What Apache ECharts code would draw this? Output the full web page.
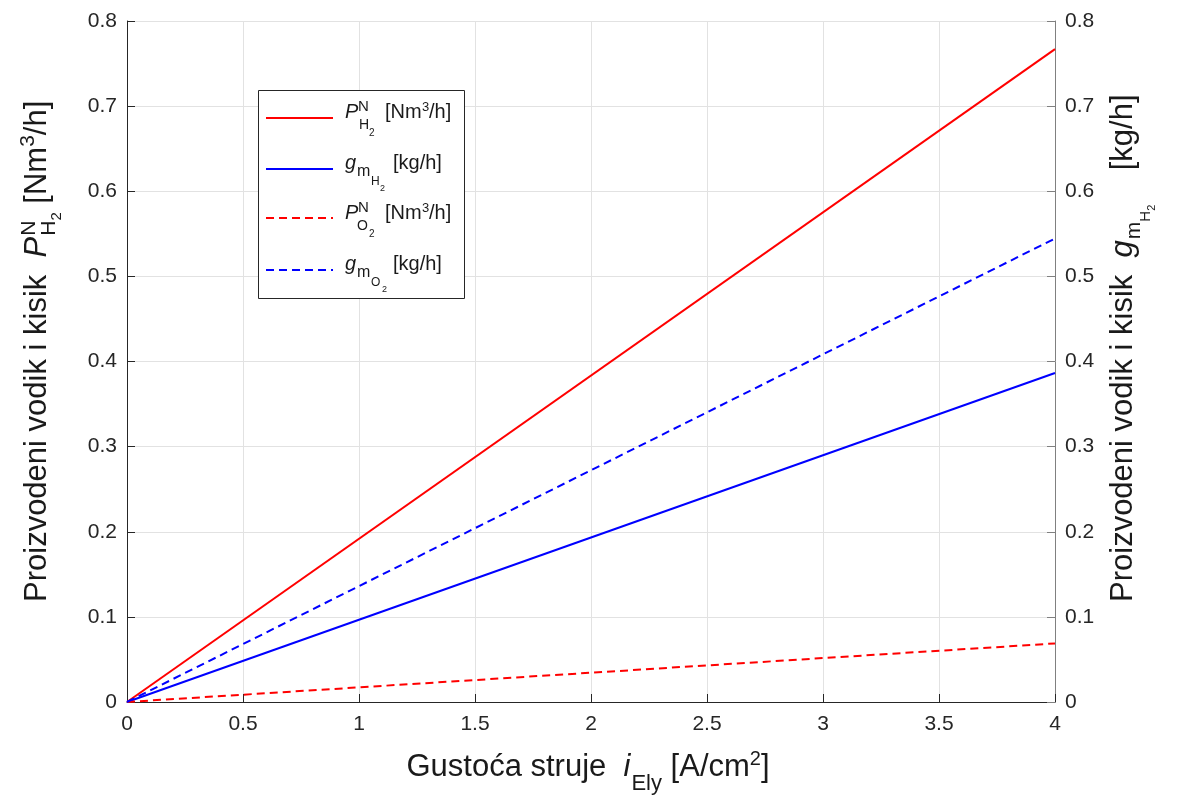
<!DOCTYPE html>
<html>
<head>
<meta charset="utf-8">
<script src="https://cdn.jsdelivr.net/npm/echarts@6/dist/echarts.min.js"></script>
<style>
html,body{margin:0;padding:0;background:#fff;}
#chart{width:1184px;height:803px;}
</style>
</head>
<body>
<div id="chart"></div>
<script>
// ---- data ----
const xValues = [0, 4];                 // current density i_Ely [A/cm^2]
const pH2Values = [0, 0.767];          // P^N_H2 [Nm^3/h]  (red solid)
const gmH2Values = [0, 0.3865];        // g_mH2 [kg/h]     (blue solid)
const pO2Values = [0, 0.0688];         // P^N_O2 [Nm^3/h]  (red dashed)
const gmO2Values = [0, 0.5445];        // g_mO2 [kg/h]     (blue dashed)
const xTicks = {min: 0, max: 4, interval: 0.5};
const yTicks = {min: 0, max: 0.8, interval: 0.1};

const FONT = '"Liberation Sans", Arial, Helvetica, sans-serif';
const TXT = '#1a1a1a';

function pairs(xs, ys) { return xs.map((x, i) => [x, ys[i]]); }

const measureCtx = document.createElement('canvas').getContext('2d');
function fontStr(s, it) { return (it ? 'italic ' : '') + s + 'px ' + FONT; }
function textWidth(t, s, it) { measureCtx.font = fontStr(s, it); return measureCtx.measureText(t).width; }

// text piece with baseline at yb
function piece(x, yb, t, s, it) {
  return {
    type: 'text', x: x, y: yb - 0.35 * s, silent: true,
    style: {
      text: t, fill: TXT, font: fontStr(s, it),
      textAlign: 'left', textVerticalAlign: 'middle', verticalAlign: 'middle'
    }
  };
}
// sequential layout of rich pieces (baseline 0)
function seq(items, x0) {
  const out = [];
  let x = x0, holdX = null, holdEnd = 0;
  items.forEach(p => {
    if (p.gap) { x += p.gap; return; }
    if (p.stackNext) {
      out.push(piece(x, p.dy || 0, p.t, p.s, p.it));
      holdX = x; holdEnd = x + textWidth(p.t, p.s, p.it);
      return;
    }
    out.push(piece(x, p.dy || 0, p.t, p.s, p.it));
    x += textWidth(p.t, p.s, p.it) + (p.after || 0);
    if (holdX !== null && p.endStack) { x = Math.max(x, holdEnd); holdX = null; }
  });
  return {els: out, end: x};
}

const legendRows = [
  {y: 118, color: '#ff0000', dash: 'solid'},
  {y: 169, color: '#0000ff', dash: 'solid'},
  {y: 218, color: '#ff0000', dash: [8, 5]},
  {y: 270, color: '#0000ff', dash: [8, 5]}
];

const graphics = [];
// legend box
graphics.push({type: 'rect', shape: {x: 258.5, y: 90.5, width: 206, height: 208},
  style: {fill: '#fff', stroke: '#262626', lineWidth: 1}, z: 100});
legendRows.forEach(r => {
  graphics.push({type: 'line', shape: {x1: 266, y1: r.y, x2: 333, y2: r.y},
    style: {stroke: r.color, lineWidth: 2, lineDash: r.dash === 'solid' ? null : r.dash}, z: 101});
});
function legendText(list) { list.forEach(p => { p.z = 102; graphics.push(p); }); }
let b = 119;
legendText([
  piece(345, b, 'P', 20, true),
  piece(358, b - 7, 'N', 15, false),
  piece(359, b + 11, 'H', 14, false),
  piece(369, b + 18, '2', 10, false),
  piece(385, b, '[Nm', 20, false),
  piece(422, b - 7, '3', 13, false),
  piece(429, b, '/h]', 20, false)
]);
b = 170;
legendText([
  piece(345, b, 'g', 20, true),
  piece(357, b + 7, 'm', 16, false),
  piece(371, b + 16, 'H', 12, false),
  piece(380, b + 22, '2', 9, false),
  piece(393, b, '[kg/h]', 20, false)
]);
b = 220;
legendText([
  piece(345, b, 'P', 20, true),
  piece(358, b - 7, 'N', 15, false),
  piece(357, b + 11, 'O', 14, false),
  piece(369, b + 18, '2', 10, false),
  piece(385, b, '[Nm', 20, false),
  piece(422, b - 7, '3', 13, false),
  piece(429, b, '/h]', 20, false)
]);
b = 271;
legendText([
  piece(345, b, 'g', 20, true),
  piece(357, b + 7, 'm', 16, false),
  piece(371, b + 16, 'O', 12, false),
  piece(382, b + 22, '2', 9, false),
  piece(393, b, '[kg/h]', 20, false)
]);

const TS = 31;  // title font size
// x-axis title
const xTitle = seq([
  {t: 'Gustoća struje  ', s: TS},
  {t: 'i', s: TS, it: true, after: 1},
  {t: 'Ely', s: 22, dy: 14},
  {t: ' [A/cm', s: TS},
  {t: '2', s: 20, dy: -12},
  {t: ']', s: TS}
], 0);
graphics.push({type: 'group', x: 588 - xTitle.end / 2, y: 778, children: xTitle.els});

// left y-axis title (rotated, reading bottom to top)
const lTitle = seq([
  {t: 'Proizvodeni vodik i kisik  ', s: TS},
  {t: 'P', s: TS, it: true, after: 1},
  {t: 'N', s: 21, dy: -11, stackNext: true},
  {t: 'H', s: 21, dy: 9},
  {t: '2', s: 15, dy: 14, endStack: true},
  {t: ' [Nm', s: TS},
  {t: '3', s: 21, dy: -12},
  {t: '/h]', s: TS}
], 0);
graphics.push({type: 'group', x: 48, y: 602, rotation: Math.PI / 2, children: lTitle.els});

// right y-axis title
const rTitle = seq([
  {t: 'Proizvodeni vodik i kisik  ', s: TS},
  {t: 'g', s: TS, it: true, after: 1},
  {t: 'm', s: 21, dy: 8},
  {t: 'H', s: 15, dy: 17},
  {t: '2', s: 11, dy: 22},
  {t: '    [kg/h]', s: TS}
], 0);
graphics.push({type: 'group', x: 1134, y: 602, rotation: Math.PI / 2, children: rTitle.els});

const axisLabel = {fontSize: 21, color: '#262626', fontFamily: FONT};
const gridLine = {show: true, lineStyle: {color: '#e2e2e2', width: 1}};

const option = {
  animation: false,
  backgroundColor: '#fff',
  grid: {left: 127, right: 129, top: 21, bottom: 101, containLabel: false},
  xAxis: {
    type: 'value', min: xTicks.min, max: xTicks.max, interval: xTicks.interval,
    axisLine: {show: true, onZero: false, lineStyle: {color: '#262626', width: 1}},
    axisTick: {show: true, inside: true, length: 8, lineStyle: {color: '#262626'}},
    axisLabel: Object.assign({margin: 12}, axisLabel),
    splitLine: gridLine
  },
  yAxis: [
    {
      type: 'value', position: 'left', min: yTicks.min, max: yTicks.max, interval: yTicks.interval,
      axisLine: {show: true, onZero: false, lineStyle: {color: '#262626', width: 1}},
      axisTick: {show: true, inside: true, length: 8, lineStyle: {color: '#262626'}},
      axisLabel: Object.assign({margin: 10}, axisLabel),
      splitLine: gridLine
    },
    {
      type: 'value', position: 'right', min: yTicks.min, max: yTicks.max, interval: yTicks.interval,
      axisLine: {show: true, onZero: false, lineStyle: {color: '#808080', width: 1}},
      axisTick: {show: true, inside: true, length: 8, lineStyle: {color: '#808080'}},
      axisLabel: Object.assign({margin: 10}, axisLabel),
      splitLine: {show: false}
    }
  ],
  series: [
    {name: 'P_H2', type: 'line', data: pairs(xValues, pH2Values), showSymbol: false, symbol: 'none',
     lineStyle: {color: '#ff0000', width: 2}, itemStyle: {color: '#ff0000'}, z: 5},
    {name: 'g_mH2', type: 'line', data: pairs(xValues, gmH2Values), showSymbol: false, symbol: 'none',
     lineStyle: {color: '#0000ff', width: 2}, itemStyle: {color: '#0000ff'}, z: 5},
    {name: 'P_O2', type: 'line', data: pairs(xValues, pO2Values), showSymbol: false, symbol: 'none',
     lineStyle: {color: '#ff0000', width: 2, type: [8, 5]}, itemStyle: {color: '#ff0000'}, z: 5},
    {name: 'g_mO2', type: 'line', data: pairs(xValues, gmO2Values), showSymbol: false, symbol: 'none',
     lineStyle: {color: '#0000ff', width: 2, type: [8, 5]}, itemStyle: {color: '#0000ff'}, z: 5}
  ],
  graphic: graphics
};

const chart = echarts.init(document.getElementById('chart'), null, {renderer: 'canvas'});
chart.setOption(option);
</script>
</body>
</html>
